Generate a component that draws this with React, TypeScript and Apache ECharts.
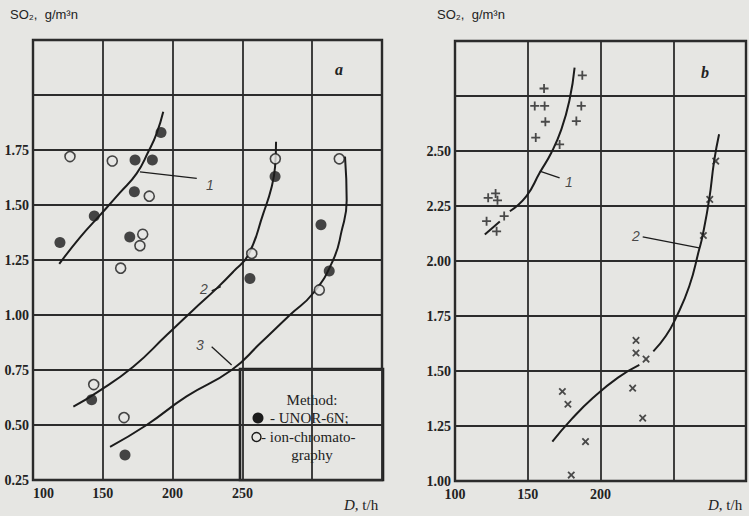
import React, { useEffect, useRef } from "react";
import * as echarts from "echarts";

// ---- Panel a (left) ----
const leftFilled: [number, number][] = [
  [191.7, 1.83], [173.1, 1.705], [185.5, 1.705], [172.6, 1.56], [143.9, 1.45],
  [119.3, 1.33], [169.3, 1.355], [273.4, 1.63], [306.3, 1.41], [255.4, 1.166],
  [312.2, 1.2], [142, 0.615], [165.9, 0.364],
];
const leftOpen: [number, number][] = [
  [126.5, 1.72], [156.8, 1.7], [183.3, 1.54], [178.6, 1.367], [176.6, 1.315],
  [273.6, 1.71], [319.4, 1.71], [256.7, 1.28], [162.8, 1.213], [305.1, 1.114],
  [143.5, 0.684], [165.2, 0.534],
];
const leftCurve1: [number, number][] = [
  [118.8, 1.232], [133.7, 1.353], [148, 1.454], [162.3, 1.556], [174.3, 1.644],
  [182.6, 1.742], [188.6, 1.826], [193.3, 1.924],
];
const leftCurve2: [number, number][] = [
  [128.9, 0.583], [145.6, 0.647], [171.8, 0.765], [195.8, 0.909], [214.8, 1.023],
  [231.6, 1.121], [243.5, 1.197], [254.2, 1.273], [265, 1.462], [271, 1.583],
  [273.4, 1.674], [274.1, 1.788],
];
const leftCurve3: [number, number][] = [
  [155.2, 0.401], [181.4, 0.5], [210, 0.63], [242.3, 0.75], [262.6, 0.87],
  [284, 1.0], [300.8, 1.1], [315, 1.25], [321, 1.38], [324.7, 1.52], [323.5, 1.72],
];
const leftLeaders: [number, number][][] = [
  [[176.6, 1.651], [217.3, 1.621]],
  [[228, 1.11], [234.5, 1.129]],
  [[228, 0.856], [242.3, 0.773]],
];
const leftLabels: { name: string; value: [number, number] }[] = [
  { name: "1", value: [226.8, 1.59] },
  { name: "2", value: [222.5, 1.12] },
  { name: "3", value: [219.6, 0.864] },
];

// ---- Panel b (right) ----
const rightPlus: [number, number][] = [
  [187.5, 2.844], [161.2, 2.784], [154.8, 2.705], [161.6, 2.705], [186.8, 2.705],
  [162.1, 2.633], [183.4, 2.636], [155.5, 2.561], [171.9, 2.53], [122.8, 2.287],
  [127.9, 2.307], [129.2, 2.276], [121.7, 2.181], [133.8, 2.204], [128.6, 2.135],
];
const rightCross: [number, number][] = [
  [279.2, 2.454], [275.1, 2.28], [270.7, 2.116], [224.4, 1.639], [224.4, 1.582],
  [231.3, 1.554], [222.1, 1.422], [229, 1.286], [173.8, 1.407], [177.6, 1.349],
  [189.7, 1.179], [179.9, 1.027],
];
const rightCurve1: [number, number][] = [
  [137.7, 2.226], [149.1, 2.295], [158.2, 2.401], [166.2, 2.492], [173.1, 2.598],
  [178.8, 2.735], [182.2, 2.879],
];
const rightCurve1Tail: [number, number][] = [[120.5, 2.12], [130.8, 2.18]];
const rightCurve2Low: [number, number][] = [
  [166.9, 1.179], [180, 1.28], [194.7, 1.377], [212, 1.47], [226.7, 1.528],
];
const rightCurve2High: [number, number][] = [
  [236.3, 1.589], [245, 1.66], [251.8, 1.741], [261, 1.885], [267.8, 2.052],
  [270.1, 2.113], [274.7, 2.28], [278.1, 2.454], [281.5, 2.576],
];
const rightLeaders: [number, number][][] = [
  [[158.2, 2.409], [171.9, 2.378]],
  [[229, 2.11], [267.8, 2.06]],
];
const rightLabels: { name: string; value: [number, number] }[] = [
  { name: "1", value: [178.3, 2.358] },
  { name: "2", value: [224.4, 2.113] },
];

// ---- Axis limits ----
const leftX = { min: 100, max: 350, step: 50, lastLabel: 250 };
const leftY = { min: 0.25, max: 2.25, step: 0.25, lastLabel: 1.75 };
const rightX = { min: 100, max: 300, step: 50, lastLabel: 200 };
const rightY = { min: 1.0, max: 3.0, step: 0.25, lastLabel: 2.5 };

const BG = "#e6e6e3";
const INK = "#1c1c1c";
const GRID = "#2c2c2c";

const PLUS = "path://M4,0h2v4h4v2h-4v4h-2v-4h-4v-2h4z";

export default function App() {
  const ref = useRef<HTMLDivElement>(null);
  useEffect(() => {
    document.body.style.margin = "0";
    document.body.style.background = BG;
    const chart = echarts.init(ref.current!, null, { renderer: "svg" });

    const xAxisBase = (lim: typeof leftX, gridIndex: number, alignMin: boolean) => ({
      type: "value",
      gridIndex,
      min: lim.min,
      max: lim.max,
      interval: lim.step,
      axisLine: { show: false },
      axisTick: { show: false },
      splitLine: { show: true, lineStyle: { color: GRID, width: 1.8 } },
      axisLabel: {
        margin: 6,
        color: "#222",
        fontFamily: "Liberation Serif",
        fontWeight: "bold",
        fontSize: 14,
        alignMinLabel: alignMin ? "left" : "center",
        formatter: (v: number) => (v <= lim.lastLabel ? String(v) : ""),
      },
    });
    const yAxisBase = (lim: typeof leftY, gridIndex: number) => ({
      type: "value",
      gridIndex,
      min: lim.min,
      max: lim.max,
      interval: lim.step,
      axisLine: { show: false },
      axisTick: { show: false },
      splitLine: { show: true, lineStyle: { color: GRID, width: 1.8 } },
      axisLabel: {
        margin: 4,
        color: "#222",
        fontFamily: "Liberation Serif",
        fontWeight: "bold",
        fontSize: 14,
        formatter: (v: number) => (v <= lim.lastLabel + 1e-9 ? v.toFixed(2) : ""),
      },
    });

    const curve = (data: [number, number][], gi: number, smooth = true) => ({
      type: "line",
      xAxisIndex: gi,
      yAxisIndex: gi,
      data,
      smooth,
      showSymbol: false,
      symbol: "none",
      silent: true,
      z: 3,
      lineStyle: { color: INK, width: 2 },
    });
    const leader = (data: [number, number][], gi: number) => ({
      type: "line",
      xAxisIndex: gi,
      yAxisIndex: gi,
      data,
      smooth: false,
      symbol: "none",
      silent: true,
      z: 3,
      lineStyle: { color: INK, width: 1.3 },
    });
    const labelSeries = (data: { name: string; value: [number, number] }[], gi: number) => ({
      type: "scatter",
      xAxisIndex: gi,
      yAxisIndex: gi,
      data,
      symbolSize: 1,
      z: 5,
      itemStyle: { color: "transparent" },
      silent: true,
      label: {
        show: true,
        position: "inside",
        formatter: "{b}",
        color: INK,
        fontFamily: "Liberation Sans",
        fontStyle: "italic",
        fontSize: 14,
      },
    });

    const serif = "Liberation Serif";

    chart.setOption({
      animation: false,
      backgroundColor: BG,
      grid: [
        { left: 33, top: 40, width: 349, height: 440, show: true, borderColor: "#222", borderWidth: 2.4, backgroundColor: "transparent" },
        { left: 455, top: 41, width: 292, height: 440, show: true, borderColor: "#222", borderWidth: 2.4, backgroundColor: "transparent" },
      ],
      xAxis: [xAxisBase(leftX, 0, true), xAxisBase(rightX, 1, false)],
      yAxis: [yAxisBase(leftY, 0), yAxisBase(rightY, 1)],
      series: [
        curve(leftCurve1, 0),
        curve(leftCurve2, 0),
        curve(leftCurve3, 0),
        ...leftLeaders.map((d) => leader(d, 0)),
        labelSeries(leftLabels, 0),
        {
          type: "scatter",
          name: "UNOR-6N",
          xAxisIndex: 0,
          yAxisIndex: 0,
          data: leftFilled,
          symbol: "circle",
          symbolSize: 11,
          z: 4,
          itemStyle: { color: INK },
        },
        {
          type: "scatter",
          name: "ion-chromatography",
          xAxisIndex: 0,
          yAxisIndex: 0,
          data: leftOpen,
          symbol: "circle",
          symbolSize: 10,
          z: 4,
          itemStyle: { color: BG, borderColor: INK, borderWidth: 1.6 },
        },
        curve(rightCurve1, 1),
        curve(rightCurve1Tail, 1, false),
        curve(rightCurve2Low, 1),
        curve(rightCurve2High, 1),
        ...rightLeaders.map((d) => leader(d, 1)),
        labelSeries(rightLabels, 1),
        {
          type: "scatter",
          xAxisIndex: 1,
          yAxisIndex: 1,
          data: rightPlus,
          symbol: PLUS,
          symbolSize: 9,
          z: 4,
          itemStyle: { color: "#222" },
        },
        {
          type: "scatter",
          xAxisIndex: 1,
          yAxisIndex: 1,
          data: rightCross,
          symbol: PLUS,
          symbolSize: 9,
          symbolRotate: 45,
          z: 4,
          itemStyle: { color: "#222" },
        },
      ],
      graphic: [
        { type: "text", left: 10, top: 8, style: { text: "SO₂,  g/m³n", font: "13px 'Liberation Sans'", fill: "#222" } },
        { type: "text", left: 437, top: 8, style: { text: "SO₂,  g/m³n", font: "13px 'Liberation Sans'", fill: "#222" } },
        { type: "text", left: 335, top: 61, style: { text: "a", font: "italic bold 16px 'Liberation Serif'", fill: "#222" } },
        { type: "text", left: 701, top: 64, style: { text: "b", font: "italic bold 16px 'Liberation Serif'", fill: "#222" } },
        {
          type: "text", left: 344, top: 497,
          style: { text: "{i|D}, t/h", rich: { i: { fontStyle: "italic", fontFamily: serif, fontSize: 15, fill: "#222" } }, font: `15px '${serif}'`, fill: "#222" },
        },
        {
          type: "text", left: 708, top: 497,
          style: { text: "{i|D}, t/h", rich: { i: { fontStyle: "italic", fontFamily: serif, fontSize: 15, fill: "#222" } }, font: `15px '${serif}'`, fill: "#222" },
        },
        {
          type: "group",
          z: 10,
          children: [
            { type: "rect", shape: { x: 240, y: 369, width: 143, height: 111 }, style: { fill: BG, stroke: "#222", lineWidth: 2.6 } },
            { type: "text", x: 312, y: 400, style: { text: "Method:", font: `15px '${serif}'`, fill: "#222", align: "center", verticalAlign: "middle" } },
            { type: "circle", shape: { cx: 258, cy: 418, r: 5.5 }, style: { fill: INK } },
            { type: "text", x: 270, y: 418, style: { text: "- UNOR-6N;", font: `15px '${serif}'`, fill: "#222", align: "left", verticalAlign: "middle" } },
            { type: "circle", shape: { cx: 256.5, cy: 437, r: 4.5 }, style: { fill: BG, stroke: INK, lineWidth: 1.4 } },
            { type: "text", x: 261, y: 437, style: { text: "- ion-chromato-", font: `15px '${serif}'`, fill: "#222", align: "left", verticalAlign: "middle" } },
            { type: "text", x: 312, y: 455, style: { text: "graphy", font: `15px '${serif}'`, fill: "#222", align: "center", verticalAlign: "middle" } },
          ],
        },
      ],
    });
    return () => chart.dispose();
  }, []);
  return (
    <div
      ref={ref}
      style={{ position: "absolute", left: 0, top: 0, width: 749, height: 516, background: BG }}
    />
  );
}
